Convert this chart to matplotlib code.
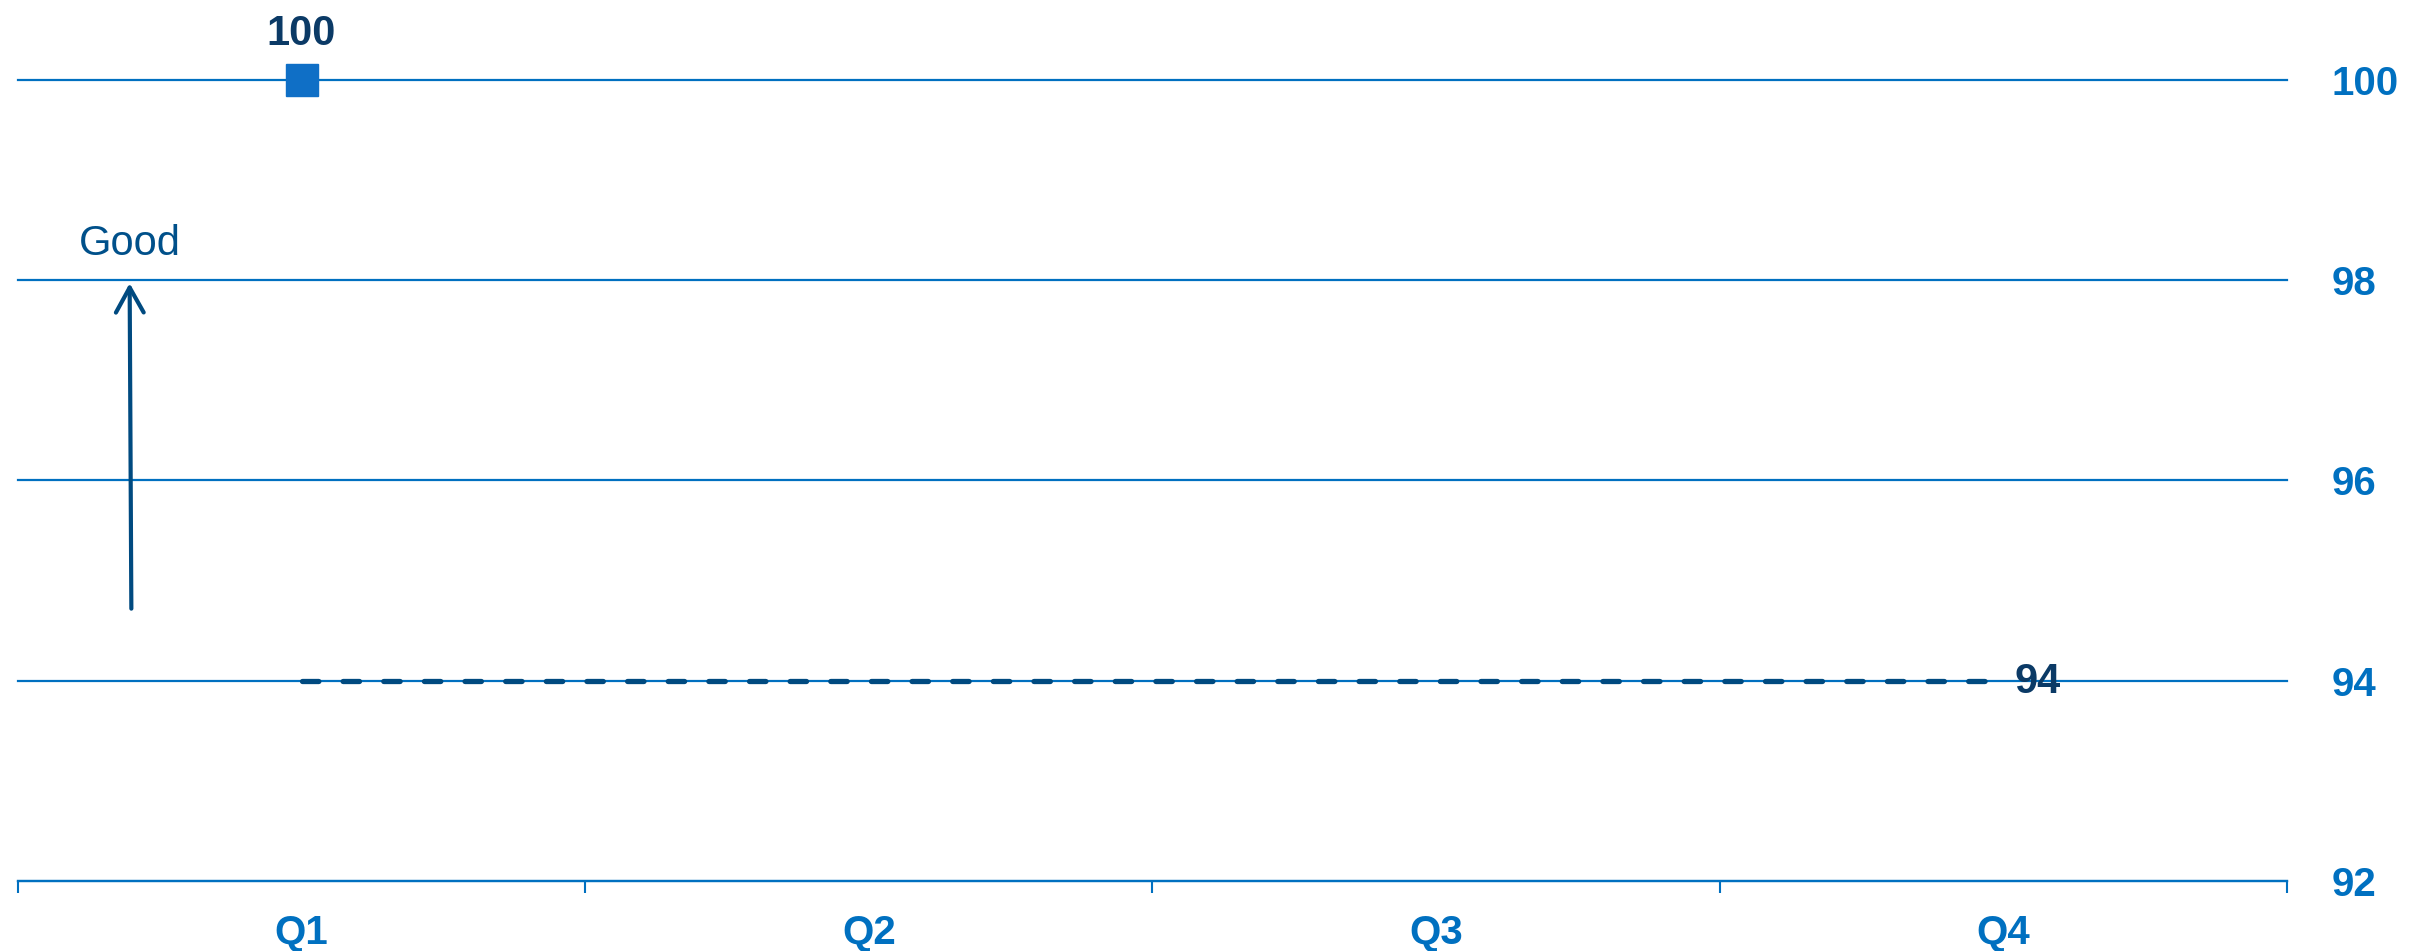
import numpy as np
import matplotlib.pyplot as plt
from matplotlib.ticker import FixedLocator

plt.rcParams['font.family'] = ['Liberation Sans', 'DejaVu Sans']

quarters = ['Q1', 'Q2', 'Q3', 'Q4']
actual_q = ['Q1']
actual_vals = [100]
target_vals = [94, 94, 94, 94]
yticks = [92, 94, 96, 98, 100]

blue = '#0070C0'
navy = '#0B3A66'
dark = '#004A80'

x = np.arange(len(quarters))
xa = [quarters.index(q) for q in actual_q]

fig = plt.figure(figsize=(24.18, 9.51), dpi=100)
ax = fig.add_axes([0.0074, 0.0736, 0.9384, 0.8423])

# target line
ax.plot(x, target_vals, color=dark, lw=3.8, dashes=(3.1, 4.6),
        dash_capstyle='round', zorder=3)
ax.annotate('%d' % target_vals[-1], xy=(x[-1], target_vals[-1]),
            xytext=(8, -1), textcoords='offset points', ha='left', va='center',
            fontsize=30, fontweight='bold', color=navy, zorder=4)

# actual
ax.plot(xa, actual_vals, 's', color='#0F6FC6', markersize=23, zorder=4,
        clip_on=False, linestyle='None')
for xi, v in zip(xa, actual_vals):
    ax.annotate('%d' % v, xy=(xi, v), xytext=(0, 19), textcoords='offset points',
                ha='center', va='bottom', fontsize=30, fontweight='bold',
                color=navy, annotation_clip=False)

# "Good" arrow
ax.annotate('', xy=(-0.303, 97.97), xytext=(-0.3, 94.72),
            arrowprops=dict(arrowstyle='->,head_length=0.9,head_width=0.5',
                            lw=3, color=dark, mutation_scale=20,
                            shrinkA=0, shrinkB=0))
ax.annotate('Good', xy=(-0.303, 98), xytext=(0, 18), textcoords='offset points',
            ha='center', va='baseline', fontsize=30, color='#00508A')

ax.set_xlim(-0.5, 3.5)
ax.set_ylim(92, 100)

ax.yaxis.tick_right()
ax.set_yticks(yticks)
ax.set_yticklabels([str(t) for t in yticks])
ax.tick_params(axis='y', length=0, pad=32, labelsize=29, labelcolor=blue)
for lab in ax.get_yticklabels():
    lab.set_fontweight('bold')
ax.yaxis.grid(True, color=blue, lw=1.6)
for gl in ax.get_ygridlines():
    gl.set_clip_on(False)
ax.set_axisbelow(True)

ax.xaxis.set_major_locator(FixedLocator(np.arange(-0.5, 4, 1)))
ax.xaxis.set_minor_locator(FixedLocator(x))
ax.set_xticklabels([], minor=False)
ax.set_xticklabels(quarters, minor=True)
ax.tick_params(axis='x', which='major', direction='out', length=8.6, width=1.5,
               color=blue)
ax.tick_params(axis='x', which='minor', length=0, pad=24, labelsize=29,
               labelcolor=blue)
for lab in ax.get_xticklabels(minor=True):
    lab.set_fontweight('bold')

for s in ['top', 'left', 'right']:
    ax.spines[s].set_visible(False)
ax.spines['bottom'].set_color(blue)
ax.spines['bottom'].set_linewidth(1.6)

fig.savefig('out.png', dpi=100)
